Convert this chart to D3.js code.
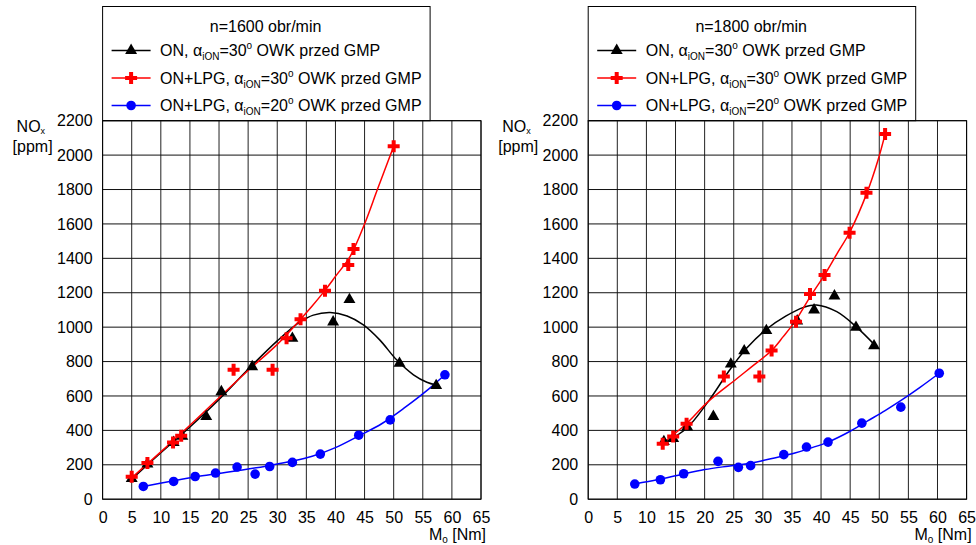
<!DOCTYPE html>
<html>
<head>
<meta charset="utf-8">
<script src="https://cdn.jsdelivr.net/npm/d3@7"></script>
<style>
  body { margin: 0; background: #fff; }
  svg { font-family: "Liberation Sans", Arial, sans-serif; }
</style>
</head>
<body>
<div id="chart"></div>
<script>
// tick values
const xTickValues = [0, 5, 10, 15, 20, 25, 30, 35, 40, 45, 50, 55, 60, 65];
const yTickValues = [0, 200, 400, 600, 800, 1000, 1200, 1400, 1600, 1800, 2000, 2200];

// n=1600 obr/min - measured points [Mo, NOx]
const on30_1600 = [[5, 120], [7.7, 205], [12.2, 330], [13.7, 365], [17.8, 480], [20.4, 625],
  [25.7, 770], [32.6, 935], [39.6, 1030], [42.4, 1160], [51.0, 790], [57.3, 660]];
const lpg30_1600 = [[5, 130], [7.7, 210], [12.1, 330], [13.5, 369], [22.5, 752], [29.2, 752],
  [31.6, 936], [34.0, 1046], [38.2, 1212], [42.2, 1361], [43.1, 1454], [50.0, 2052]];
const lpg20_1600 = [[7.0, 74], [12.2, 103], [15.9, 132], [19.4, 152], [23.1, 187], [26.2, 146],
  [28.7, 190], [32.6, 214], [37.4, 262], [44.0, 372], [49.4, 461], [58.8, 723]];

// n=1600 trend lines
const on30_1600Fit = [[5, 117], [10, 270], [15, 420], [20, 580], [25, 755], [30, 920], [33.9, 1030],
  [36.2, 1070], [39.1, 1085], [42, 1065], [44.8, 1013], [47.6, 926], [50.5, 810], [53.4, 723],
  [55.7, 680], [57.3, 664]];
const lpg30_1600Fit = [[5, 125], [10, 275], [15, 430], [20, 590], [25, 748], [30, 900], [34, 1046],
  [36, 1123], [38, 1205], [40, 1295], [42.5, 1410], [45, 1600], [47.2, 1800], [50, 2052]];
const lpg20_1600Fit = [[7, 74], [12, 106], [16, 130], [20, 150], [24, 170], [28, 192], [32, 218],
  [36, 250], [40, 300], [44, 368], [48, 440], [52, 535], [56, 640], [58.8, 723]];

// n=1800 obr/min - measured points
const on30_1800 = [[13.0, 335], [14.6, 352], [17.0, 420], [21.5, 481], [24.5, 785], [26.8, 862],
  [30.6, 980], [35.9, 1036], [38.8, 1100], [42.3, 1181], [46.0, 999], [49.1, 891]];
const lpg30_1800 = [[12.8, 322], [14.6, 365], [16.9, 438], [23.3, 713], [29.4, 713], [31.5, 864],
  [35.7, 1032], [38.1, 1193], [40.6, 1303], [44.9, 1549], [47.8, 1781], [51.0, 2122]];
const lpg20_1800 = [[8.0, 88], [12.4, 113], [16.4, 148], [22.3, 220], [25.8, 185], [27.9, 195],
  [33.6, 259], [37.5, 303], [41.2, 332], [47.0, 442], [53.7, 535], [60.3, 732]];

// n=1800 trend lines
const on30_1800Fit = [[13.2, 330], [16.9, 412], [20.6, 567], [24.3, 751], [27.2, 877], [30.5, 985],
  [34, 1065], [37, 1115], [39.2, 1129], [42.7, 1090], [46.1, 1000], [49.2, 897]];
const lpg30_1800Fit = [[12.8, 325], [16.9, 440], [20.6, 567], [25.5, 700], [28, 768], [31.5, 864],
  [33.5, 945], [35.5, 1032], [38.1, 1175], [40.6, 1304], [42.7, 1425], [44.9, 1550], [47.9, 1782],
  [49.8, 1973], [51, 2122]];
const lpg20_1800Fit = [[8, 88], [12, 114], [16, 144], [20, 172], [24, 192], [28, 210], [32, 240],
  [35.5, 268], [38, 295], [41.2, 332], [45, 395], [48, 455], [51, 515], [54, 580], [57, 650], [60.3, 732]];

const svg = d3.select("#chart").append("svg")
    .attr("width", 976)
    .attr("height", 545);

const fs = 16;

function drawChart(left, title, series) {
    const top = 120.7, bottom = 499.2;
    const right = left + 378.4;

    const x = d3.scaleLinear().domain([0, 65]).range([left, right]);
    const y = d3.scaleLinear().domain([0, 2200]).range([bottom, top]);

    const g = svg.append("g");

    // legend box
    g.append("rect")
        .attr("x", left)
        .attr("y", 6.5)
        .attr("width", 327.5)
        .attr("height", top - 6.5)
        .attr("fill", "none")
        .attr("stroke", "#000")
        .attr("stroke-width", 1);

    // grid
    g.selectAll(".vgrid")
        .data(xTickValues)
        .enter().append("line")
        .attr("x1", d => x(d)).attr("x2", d => x(d))
        .attr("y1", top).attr("y2", bottom)
        .attr("stroke", "#222").attr("stroke-width", 1);
    g.selectAll(".hgrid")
        .data(yTickValues)
        .enter().append("line")
        .attr("x1", left).attr("x2", right)
        .attr("y1", d => y(d)).attr("y2", d => y(d))
        .attr("stroke", "#111").attr("stroke-width", 1);
    g.append("rect")
        .attr("x", left).attr("y", top)
        .attr("width", right - left).attr("height", bottom - top)
        .attr("fill", "none").attr("stroke", "#000");

    // tick labels
    const xAxis = g.append("g")
        .attr("transform", `translate(0,${bottom})`)
        .call(d3.axisBottom(x).tickValues(xTickValues).tickSize(0).tickPadding(12).tickFormat(d3.format("d")));
    xAxis.select(".domain").remove();
    xAxis.selectAll("text").style("font-size", fs + "px").style("font-family", "Liberation Sans, Arial, sans-serif").attr("fill", "#000");

    const yAxis = g.append("g")
        .attr("transform", `translate(${left},0)`)
        .call(d3.axisLeft(y).tickValues(yTickValues).tickSize(0).tickPadding(10).tickFormat(d3.format("d")));
    yAxis.select(".domain").remove();
    yAxis.selectAll("text").style("font-size", fs + "px").style("font-family", "Liberation Sans, Arial, sans-serif").attr("fill", "#000");

    // axis titles
    const yl = g.append("text").attr("x", left - 86).attr("y", 132).style("font-size", fs + "px");
    yl.append("tspan").text("NO");
    yl.append("tspan").attr("dy", 2).style("font-size", "9px").text("x");
    g.append("text").attr("x", left - 90).attr("y", 152).style("font-size", fs + "px").text("[ppm]");

    const xl = g.append("text").attr("x", right + 5).attr("y", 540)
        .attr("text-anchor", "end").style("font-size", fs + "px");
    xl.append("tspan").text("M");
    xl.append("tspan").attr("dy", 3).style("font-size", "10px").text("o");
    xl.append("tspan").attr("dy", -3).text(" [Nm]");

    // curves
    const line = d3.line()
        .x(d => x(d[0]))
        .y(d => y(d[1]))
        .curve(d3.curveCatmullRom.alpha(0.5));

    series.forEach(s => {
        g.append("path")
            .datum(s.fit)
            .attr("d", line)
            .attr("fill", "none")
            .attr("stroke", s.color)
            .attr("stroke-width", 1.5);
    });

    function marker(sel, s) {
        if (s.shape === "circle") {
            sel.append("circle").attr("r", 4.8).attr("fill", s.color);
        } else {
            const sym = s.shape === "triangle" ? d3.symbolTriangle : d3.symbolCross;
            const size = s.shape === "triangle" ? 62 : 80;
            sel.append("path").attr("d", d3.symbol().type(sym).size(size)).attr("fill", s.color);
        }
    }

    series.forEach(s => {
        g.selectAll(null)
            .data(s.points)
            .enter().append("g")
            .attr("transform", d => `translate(${x(d[0])},${y(d[1])})`)
            .each(function() { marker(d3.select(this), s); });
    });

    // legend
    g.append("text")
        .attr("x", left + 163)
        .attr("y", 32)
        .attr("text-anchor", "middle")
        .style("font-size", fs + "px")
        .text(title);

    series.forEach((s, i) => {
        const ly = 50.5 + i * 27.5;
        g.append("line")
            .attr("x1", left + 9).attr("x2", left + 48)
            .attr("y1", ly).attr("y2", ly)
            .attr("stroke", s.color).attr("stroke-width", 1.5);
        const m = g.append("g").attr("transform", `translate(${left + 28.5},${ly})`);
        marker(m, s);
        const t = g.append("text")
            .attr("x", left + 57.5)
            .attr("y", ly + 5.5)
            .style("font-size", fs + "px");
        t.append("tspan").text(s.name + ", ");
        t.append("tspan").text("α");
        t.append("tspan").attr("dy", 4).style("font-size", "10px").text("iON");
        t.append("tspan").attr("dy", -4).text("=" + s.angle);
        t.append("tspan").attr("dy", -7).style("font-size", "10px").text("o");
        t.append("tspan").attr("dy", 7).text(" OWK przed GMP");
    });
}

drawChart(102.6, "n=1600 obr/min", [
    { name: "ON", angle: 30, color: "#000", shape: "triangle", points: on30_1600, fit: on30_1600Fit },
    { name: "ON+LPG", angle: 30, color: "#ff0000", shape: "cross", points: lpg30_1600, fit: lpg30_1600Fit },
    { name: "ON+LPG", angle: 20, color: "#0000ff", shape: "circle", points: lpg20_1600, fit: lpg20_1600Fit }
]);

drawChart(588.2, "n=1800 obr/min", [
    { name: "ON", angle: 30, color: "#000", shape: "triangle", points: on30_1800, fit: on30_1800Fit },
    { name: "ON+LPG", angle: 30, color: "#ff0000", shape: "cross", points: lpg30_1800, fit: lpg30_1800Fit },
    { name: "ON+LPG", angle: 20, color: "#0000ff", shape: "circle", points: lpg20_1800, fit: lpg20_1800Fit }
]);
</script>
</body>
</html>
